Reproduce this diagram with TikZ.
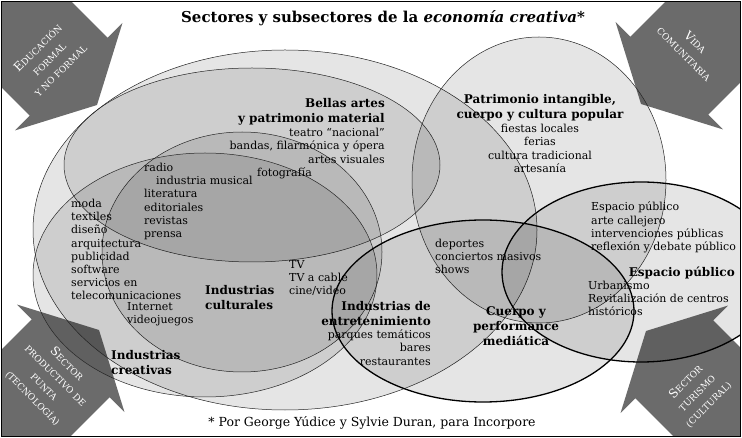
\documentclass[tikz,border=0pt]{standalone}
\usepackage{fontspec}
\setmainfont{DejaVu Serif}
\usetikzlibrary{positioning}

% small-caps look for the corner labels
\newcommand{\capini}[2]{{\fontsize{12}{16}\selectfont #1}#2}

\begin{document}
\begin{tikzpicture}[
    x=1pt, y=-1pt,
    % --- Style Definitions ---
    zone/.style={fill=black, fill opacity=0.1, draw=black!85, draw opacity=1, line width=0.5pt},
    boldzone/.style={zone, draw=black, line width=1.3pt},
    sectorarrow/.style={fill=black!58},
    sectortext/.style={text=white, align=center, inner sep=0pt,
        font=\fontsize{9}{16}\selectfont},
    header/.style={font=\bfseries\fontsize{12}{15}\selectfont, inner sep=0pt},
    items/.style={font=\fontsize{11}{13.2}\selectfont, inner sep=0pt}
]
\useasboundingbox (0,0) rectangle (742,438);

% ================= Corner arrows =================
\begin{scope}
    \clip (1,1.5) rectangle (740,436);
    \foreach \tx/\ty/\ang in {97/105/-45, 641/104/-135, 99/330/45, 646/331/135}
        \fill[sectorarrow, shift={(\tx,\ty)}, rotate=\ang]
            (0,0) -- (-40,76) -- (-40,55) -- (-230,55) -- (-230,-55)
            -- (-40,-55) -- (-40,-76) -- cycle;
\end{scope}

% ================= Sector ellipses =================
\path[zone] (285,230) ellipse [x radius=252pt, y radius=180pt];   % creativas
\path[zone] (252,165) ellipse [x radius=188pt, y radius=97pt];    % bellas artes
\path[zone] (242,252) ellipse [x radius=140pt, y radius=120pt];   % culturales
\path[zone] (205,275) ellipse [x radius=172pt, y radius=122pt];   % diseno
\path[zone] (539,180) ellipse [x radius=127pt, y radius=143pt];   % patrimonio
\begin{scope}
    \clip (1,1.5) rectangle (740,436);
    \path[boldzone] (641,272) ellipse [x radius=139pt, y radius=90pt]; % espacio
\end{scope}
\path[boldzone] (483,311) ellipse [x radius=151pt, y radius=91pt];  % entretenimiento

% ================= Frame & title =================
\draw[line width=0.8pt] (1,1.5) rectangle (740,436);
\node[font=\bfseries\fontsize{15}{17}\selectfont] (title) at (383,18)
    {Sectores y subsectores de la \textit{economía creativa}*};

% ================= Labels =================
\node[header, align=right, anchor=north east] (bellas) at (385,98)
    {Bellas artes\\y patrimonio material};
\node[items, align=right, below=3pt of bellas.south east, anchor=north east] (bellaslist)
    {teatro “nacional”\\bandas, filarmónica y ópera\\artes visuales};

\node[header, align=center, anchor=north] (patrimonio) at (540,94)
    {Patrimonio intangible,\\cuerpo y cultura popular};
\node[items, align=center, below=3pt of patrimonio] (patrimoniolist)
    {fiestas locales\\ferias\\cultura tradicional\\artesanía};

\node[items, align=left, anchor=north west] (medios) at (144,163)
    {radio\\\hspace*{12pt}industria musical\\literatura\\editoriales\\revistas\\prensa};
\node[items, anchor=west] (foto) at (257,173) {fotografía};

\node[items, align=left, anchor=north west] (diseno) at (71,199)
    {moda\\textiles\\diseño\\arquitectura\\publicidad\\software\\servicios en\\telecomunicaciones};
\node[items, align=left, anchor=north west] (digital) at (127,302)
    {Internet\\videojuegos};
\node[items, align=left, anchor=north west] (tele) at (289,260)
    {TV\\TV a cable\\cine/video};

\node[header, align=left, anchor=north west] (culturales) at (205,285)
    {Industrias\\culturales};
\node[header, align=left, anchor=north west] (creativas) at (111,350)
    {Industrias\\creativas};

\node[header, align=right, anchor=north east] (entret) at (431,301)
    {Industrias de\\entretenimiento};
\node[items, align=right, below=4pt of entret.south east, anchor=north east] (entretlist)
    {parques temáticos\\bares\\restaurantes};

\node[items, align=left, anchor=north west] (masivos) at (435,239)
    {deportes\\conciertos masivos\\shows};
\node[header, align=center, anchor=north] (cuerpo) at (516,306)
    {Cuerpo y\\performance\\mediática};

\node[items, align=left, anchor=north west] (calle) at (591,202)
    {Espacio público\\arte callejero\\intervenciones públicas\\reflexión y debate público};
\node[header, anchor=east] (espacio) at (735,273) {Espacio público};
\node[items, align=left, anchor=north west] (urbano) at (588,281)
    {Urbanismo\\Revitalización de centros\\históricos};

\node[items, font=\fontsize{12.5}{14}\selectfont] (credito) at (372,423)
    {* Por George Yúdice y Sylvie Duran, para Incorpore};

% ================= Arrow texts =================
\node[sectortext, rotate=45] (educacion) at (49,59)
    {\capini{E}{DUCACIÓN}\\FORMAL\\Y NO FORMAL};
\node[sectortext, rotate=-45] (vida) at (690,48)
    {\capini{V}{IDA}\\COMUNITARIA};
\node[sectortext, rotate=-45] (productivo) at (50,381)
    {\capini{S}{ECTOR}\\PRODUCTIVO DE\\PUNTA\\(TECNOLOGÍA)};
\node[sectortext, rotate=45] (turismo) at (697,393)
    {\capini{S}{ECTOR}\\TURISMO\\(CULTURAL)};

\end{tikzpicture}
\end{document}
